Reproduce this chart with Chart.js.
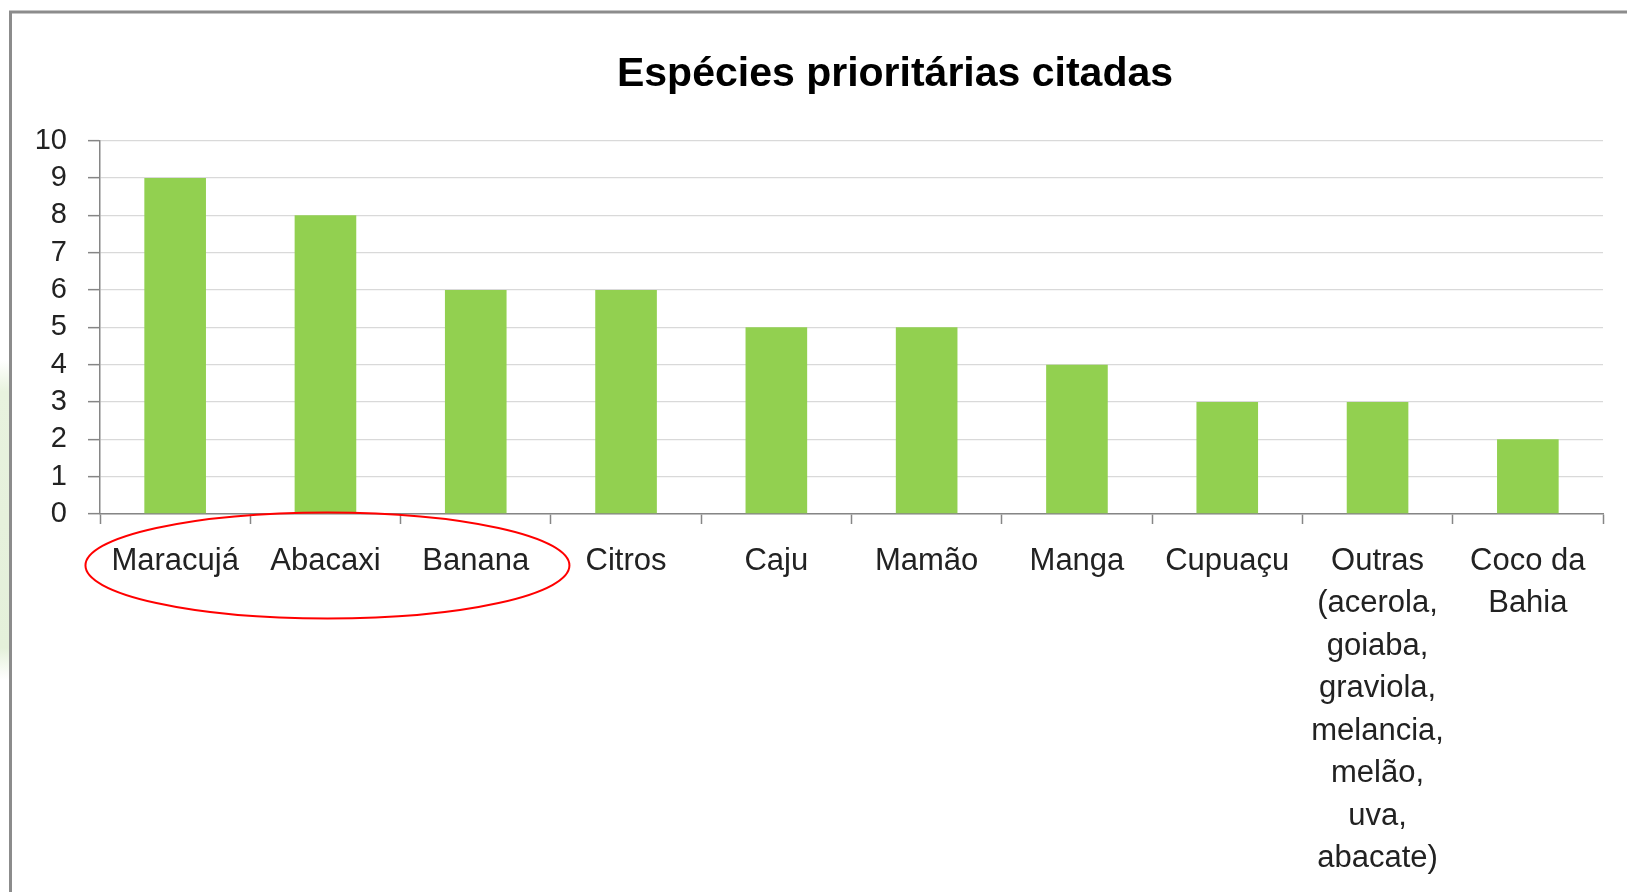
<!DOCTYPE html>
<html><head><meta charset="utf-8">
<script src="https://cdn.jsdelivr.net/npm/chart.js@4"></script>
<style>html,body{margin:0;padding:0;background:#fff;overflow:hidden}canvas{display:block}</style>
</head><body>
<canvas id="c" width="1627" height="892" style="width:1627px;height:892px"></canvas>
<script>
const categories = [
  "Maracujá", "Abacaxi", "Banana", "Citros", "Caju", "Mamão", "Manga", "Cupuaçu",
  ["Outras", "(acerola,", "goiaba,", "graviola,", "melancia,", "melão,", "uva,", "abacate)"],
  ["Coco da", "Bahia"]
];
const values = [9, 8, 6, 6, 5, 5, 4, 3, 3, 2];
const yTicks = [0, 1, 2, 3, 4, 5, 6, 7, 8, 9, 10];
const titleText = "Espécies prioritárias citadas";
const highlighted = [0, 2]; // first and last highlighted category (red ellipse)

const FONT = "'Liberation Sans', Arial, sans-serif";
const AXIS = '#868686';

const framePlugin = {
  id: 'frame',
  beforeDraw(chart) {
    const ctx = chart.ctx;
    ctx.save();
    ctx.fillStyle = '#fff';
    ctx.fillRect(0, 0, chart.width, chart.height);
    const g = ctx.createLinearGradient(0, 360, 0, 680);
    g.addColorStop(0, 'rgba(232,242,222,0)');
    g.addColorStop(0.1, 'rgba(232,242,222,1)');
    g.addColorStop(0.9, 'rgba(228,240,218,1)');
    g.addColorStop(1, 'rgba(232,242,222,0)');
    ctx.fillStyle = g;
    ctx.fillRect(0, 360, 9, 320);
    ctx.strokeStyle = '#8c8c8c';
    ctx.lineWidth = 3;
    ctx.beginPath();
    ctx.moveTo(10.5, chart.height);
    ctx.lineTo(10.5, 12);
    ctx.lineTo(chart.width, 12);
    ctx.stroke();
    ctx.restore();
  },
  afterDraw(chart) {
    const ctx = chart.ctx;
    ctx.save();
    ctx.font = "bold 41px " + FONT;
    ctx.fillStyle = '#000';
    ctx.textAlign = 'center';
    ctx.textBaseline = 'alphabetic';
    ctx.fillText(titleText, 895, 86);
    // red ellipse around highlighted categories
    const xs = chart.scales.x;
    const catW = (xs.right - xs.left) / categories.length;
    const x0 = xs.getPixelForValue(highlighted[0]);
    const x1 = xs.getPixelForValue(highlighted[1]);
    const cx = (x0 + x1) / 2 + 2;
    const rx = (x1 - x0) / 2 + catW * 0.61;
    const cy = chart.chartArea.bottom + 51.5;
    const ry = 53;
    ctx.strokeStyle = '#ff0000';
    ctx.lineWidth = 2;
    ctx.beginPath();
    ctx.ellipse(cx, cy, rx, ry, 0, 0, Math.PI * 2);
    ctx.stroke();
    ctx.restore();
  }
};

new Chart(document.getElementById('c'), {
  type: 'bar',
  data: {
    labels: categories,
    datasets: [{
      data: values,
      backgroundColor: '#92D050',
      borderWidth: 0,
      categoryPercentage: 1,
      barPercentage: 0.41
    }]
  },
  options: {
    responsive: false,
    animation: false,
    devicePixelRatio: 1,
    layout: { padding: { top: 140.7, left: 0, right: 24, bottom: 0 } },
    plugins: { legend: { display: false }, tooltip: { enabled: false }, title: { display: false } },
    scales: {
      x: {
        afterFit(scale) { scale.height = 892 - 140.7 - 373.3; },
        grid: { display: true, drawOnChartArea: false, drawTicks: true, tickLength: 10, tickColor: AXIS, tickWidth: 1.5, offset: true },
        border: { display: true, color: AXIS, width: 1.5 },
        ticks: { autoSkip: false, maxRotation: 0, minRotation: 0, padding: 16, color: '#222',
          font: { family: FONT, size: 31, lineHeight: 1.37 } }
      },
      y: {
        min: 0, max: 10,
        afterFit(scale) { scale.width = 100; },
        afterBuildTicks(scale) { scale.ticks = yTicks.map(v => ({ value: v })); },
        grid: { color: '#D9D9D9', lineWidth: 1.3, tickColor: AXIS, tickLength: 12, tickWidth: 1.5 },
        border: { display: true, color: AXIS, width: 1.5 },
        ticks: { autoSkip: false, padding: 21, color: '#222', font: { family: FONT, size: 29, lineHeight: 1 } }
      }
    }
  },
  plugins: [framePlugin]
});
</script>
</body></html>
